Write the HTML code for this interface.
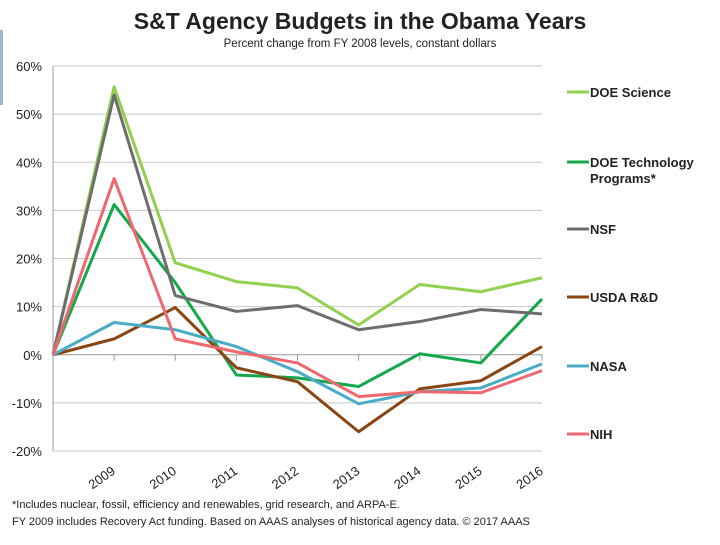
<!DOCTYPE html>
<html><head><meta charset="utf-8">
<style>
body{margin:0;background:#fff;font-family:"Liberation Sans",Arial,sans-serif;}
svg text{font-family:"Liberation Sans",Arial,sans-serif;}
</style></head>
<body>
<svg width="720" height="540" viewBox="0 0 720 540">
<rect x="0" y="30" width="3" height="75" fill="#9fb6c6"/>
<text x="360" y="29" text-anchor="middle" font-size="23" font-weight="bold" fill="#222">S&amp;T Agency Budgets in the Obama Years</text>
<text x="360" y="47" text-anchor="middle" font-size="11.5" fill="#222">Percent change from FY 2008 levels, constant dollars</text>
<g id="grid"></g>
<g id="series"></g>
<g id="legend"></g>
<text x="12" y="508" font-size="11" fill="#222">*Includes nuclear, fossil, efficiency and renewables, grid research, and ARPA-E.</text>
<text x="12" y="525" font-size="11" fill="#222">FY 2009 includes Recovery Act funding. Based on AAAS analyses of historical  agency data. © 2017 AAAS</text>
</svg>
<script>
const years = ["2008","2009","2010","2011","2012","2013","2014","2015","2016"];
const yTicks = [-20,-10,0,10,20,30,40,50,60];
const doeScience = [0,55.7,19.1,15.2,13.9,6.2,14.6,13.1,16.0];
const doeTech = [0,31.2,15.0,-4.2,-4.8,-6.6,0.2,-1.7,11.6];
const nsf = [0,54.0,12.3,9.0,10.2,5.2,6.9,9.4,8.5];
const usda = [0,3.3,9.8,-2.7,-5.6,-16.0,-7.1,-5.4,1.7];
const nasa = [0,6.7,5.2,1.7,-3.5,-10.2,-7.7,-6.9,-1.9];
const nih = [0,36.6,3.3,0.6,-1.7,-8.7,-7.7,-7.9,-3.3];
const seriesNames = ["DOE Science","DOE Technology|Programs*","NSF","USDA R&D","NASA","NIH"];

const NS="http://www.w3.org/2000/svg";
const X0=53,X1=542,Y0=451,Y1=66;
const xs=i=>X0+(X1-X0)*i/(years.length-1);
const ys=v=>Y0-(v+20)/80*(Y0-Y1);
function mk(t,a,p){const e=document.createElementNS(NS,t);for(const k in a)e.setAttribute(k,a[k]);p.appendChild(e);return e;}
const grid=document.getElementById('grid');
yTicks.forEach(t=>{
  const l=mk('line',{x1:X0,x2:X1,y1:ys(t),y2:ys(t),stroke:t===0?'#999':'#c8c8c8','stroke-width':1},grid);
  
  
  const tx=mk('text',{x:X0-11,y:ys(t)+5,'text-anchor':'end','font-size':13,fill:'#222'},grid);
  tx.textContent=t+'%';
  
  
});
const ax=mk('line',{x1:X0,x2:X0,y1:Y1,y2:Y0,stroke:'#999'},grid);


years.forEach((y,i)=>{
  if(i===0)return;
  const tk=mk('line',{x1:xs(i),x2:xs(i),y1:ys(0),y2:ys(0)+6,stroke:'#999'},grid);
  
  
  const tx=mk('text',{x:xs(i)+2,y:Y0+22,'text-anchor':'end','font-size':13,fill:'#222',transform:`rotate(-35 ${xs(i)+2} ${Y0+22})`},grid);
  tx.textContent=y;
  
  
});
const data=[doeScience,doeTech,nsf,usda,nasa,nih];
const colors=['#92d050','#14a84b','#6d6d6d','#8b4513','#4bacc6','#f0686f'];
const legY=[92,162,229,297,366,434];
const sg=document.getElementById('series'),lg=document.getElementById('legend');
data.forEach((d,s)=>{
  const p=mk('polyline',{points:d.map((v,i)=>xs(i)+','+ys(v)).join(' '),fill:'none',stroke:colors[s],'stroke-width':3,'stroke-linejoin':'round'},sg);
  
  
  const ll=mk('line',{x1:567,x2:589,y1:legY[s],y2:legY[s],stroke:colors[s],'stroke-width':3},lg);
  
  
  seriesNames[s].split('|').forEach((part,k)=>{
    const t=mk('text',{x:590,y:legY[s]+5+k*16,'font-size':13,'font-weight':'bold',fill:'#222'},lg);
    t.textContent=part;
    
    
  });
});
</script>
</body></html>
